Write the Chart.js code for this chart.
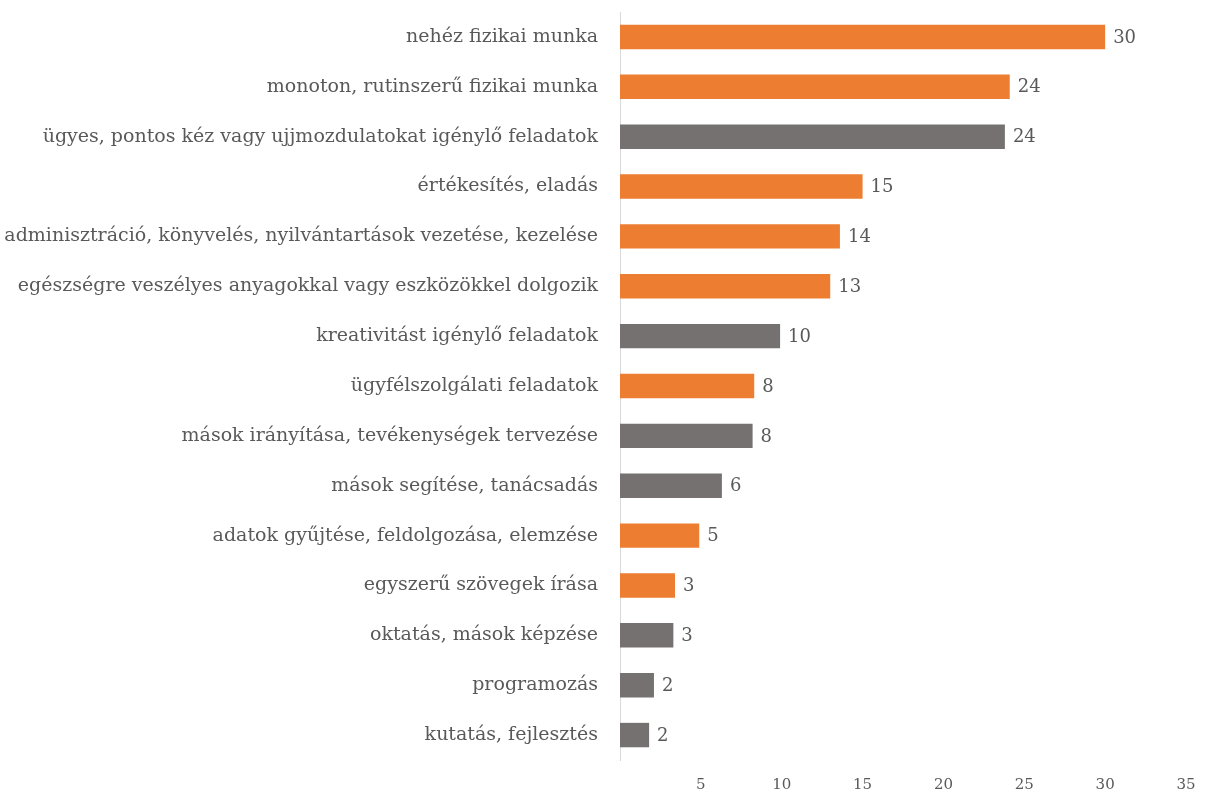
<!DOCTYPE html>
<html>
<head>
<meta charset="utf-8">
<script src="https://cdn.jsdelivr.net/npm/chart.js@4/dist/chart.umd.min.js"></script>
<style>
  html, body { margin: 0; padding: 0; background: #fff; }
  #wrap { position: relative; width: 1205px; height: 795px; }
</style>
</head>
<body>
<div id="wrap"><canvas id="chart"></canvas></div>
<script>
// Task types, sorted by share (horizontal bars)
const categories = [
  'nehéz fizikai munka',
  'monoton, rutinszerű fizikai munka',
  'ügyes, pontos kéz vagy ujjmozdulatokat igénylő feladatok',
  'értékesítés, eladás',
  'adminisztráció, könyvelés, nyilvántartások vezetése, kezelése',
  'egészségre veszélyes anyagokkal vagy eszközökkel dolgozik',
  'kreativitást igénylő feladatok',
  'ügyfélszolgálati feladatok',
  'mások irányítása, tevékenységek tervezése',
  'mások segítése, tanácsadás',
  'adatok gyűjtése, feldolgozása, elemzése',
  'egyszerű szövegek írása',
  'oktatás, mások képzése',
  'programozás',
  'kutatás, fejlesztés'
];
// bar lengths
const values = [30.0, 24.1, 23.8, 15.0, 13.6, 13.0, 9.9, 8.3, 8.2, 6.3, 4.9, 3.4, 3.3, 2.1, 1.8];
// printed labels next to bars
const valueLabels = ['30', '24', '24', '15', '14', '13', '10', '8', '8', '6', '5', '3', '3', '2', '2'];
// true = orange, false = grey
const highlight = [true, true, false, true, true, true, false, true, false, false, true, true, false, false, false];
const xTicks = [5, 10, 15, 20, 25, 30, 35];

const ORANGE = '#ED7D31';
const GREY = '#767171';
const TEXT = '#595959';
const FONT = "'DejaVu Serif', 'Liberation Serif', serif";

const barLabels = {
  id: 'barLabels',
  afterDatasetsDraw(chart) {
    const ctx = chart.ctx;
    const meta = chart.getDatasetMeta(0);
    ctx.save();
    ctx.font = '18px ' + FONT;
    ctx.fillStyle = TEXT;
    ctx.textBaseline = 'middle';
    ctx.textAlign = 'left';
    meta.data.forEach(function (bar, i) {
      ctx.fillText(valueLabels[i], bar.x + 8, bar.y + 1);
    });
    ctx.restore();
  }
};

new Chart(document.getElementById('chart'), {
  type: 'bar',
  data: {
    labels: categories,
    datasets: [{
      data: values,
      backgroundColor: highlight.map(function (h) { return h ? ORANGE : GREY; }),
      borderWidth: 0,
      barPercentage: 0.49,
      categoryPercentage: 1
    }]
  },
  options: {
    indexAxis: 'y',
    responsive: true,
    maintainAspectRatio: false,
    animation: false,
    layout: { padding: { top: 12, right: 19, bottom: 0, left: 0 } },
    plugins: {
      legend: { display: false },
      tooltip: { enabled: false }
    },
    scales: {
      x: {
        min: 0,
        max: 35,
        afterBuildTicks: function (axis) {
          axis.ticks = xTicks.map(function (v) { return { value: v }; });
        },
        afterFit: function (axis) {
          axis.height = 35;
          axis.paddingLeft = 0;
          axis.paddingRight = 0;
        },
        grid: { display: false, drawTicks: false },
        border: { display: false },
        ticks: {
          color: TEXT,
          padding: 16,
          font: { family: FONT, size: 15 }
        }
      },
      y: {
        afterFit: function (axis) {
          axis.width = 620;
          axis.paddingTop = 0;
          axis.paddingBottom = 0;
        },
        grid: { display: false, drawTicks: false },
        border: { display: true, color: '#D9D9D9', width: 1 },
        ticks: {
          color: TEXT,
          padding: 22,
          font: { family: FONT, size: 19 }
        }
      }
    }
  },
  plugins: [barLabels]
});
</script>
</body>
</html>
